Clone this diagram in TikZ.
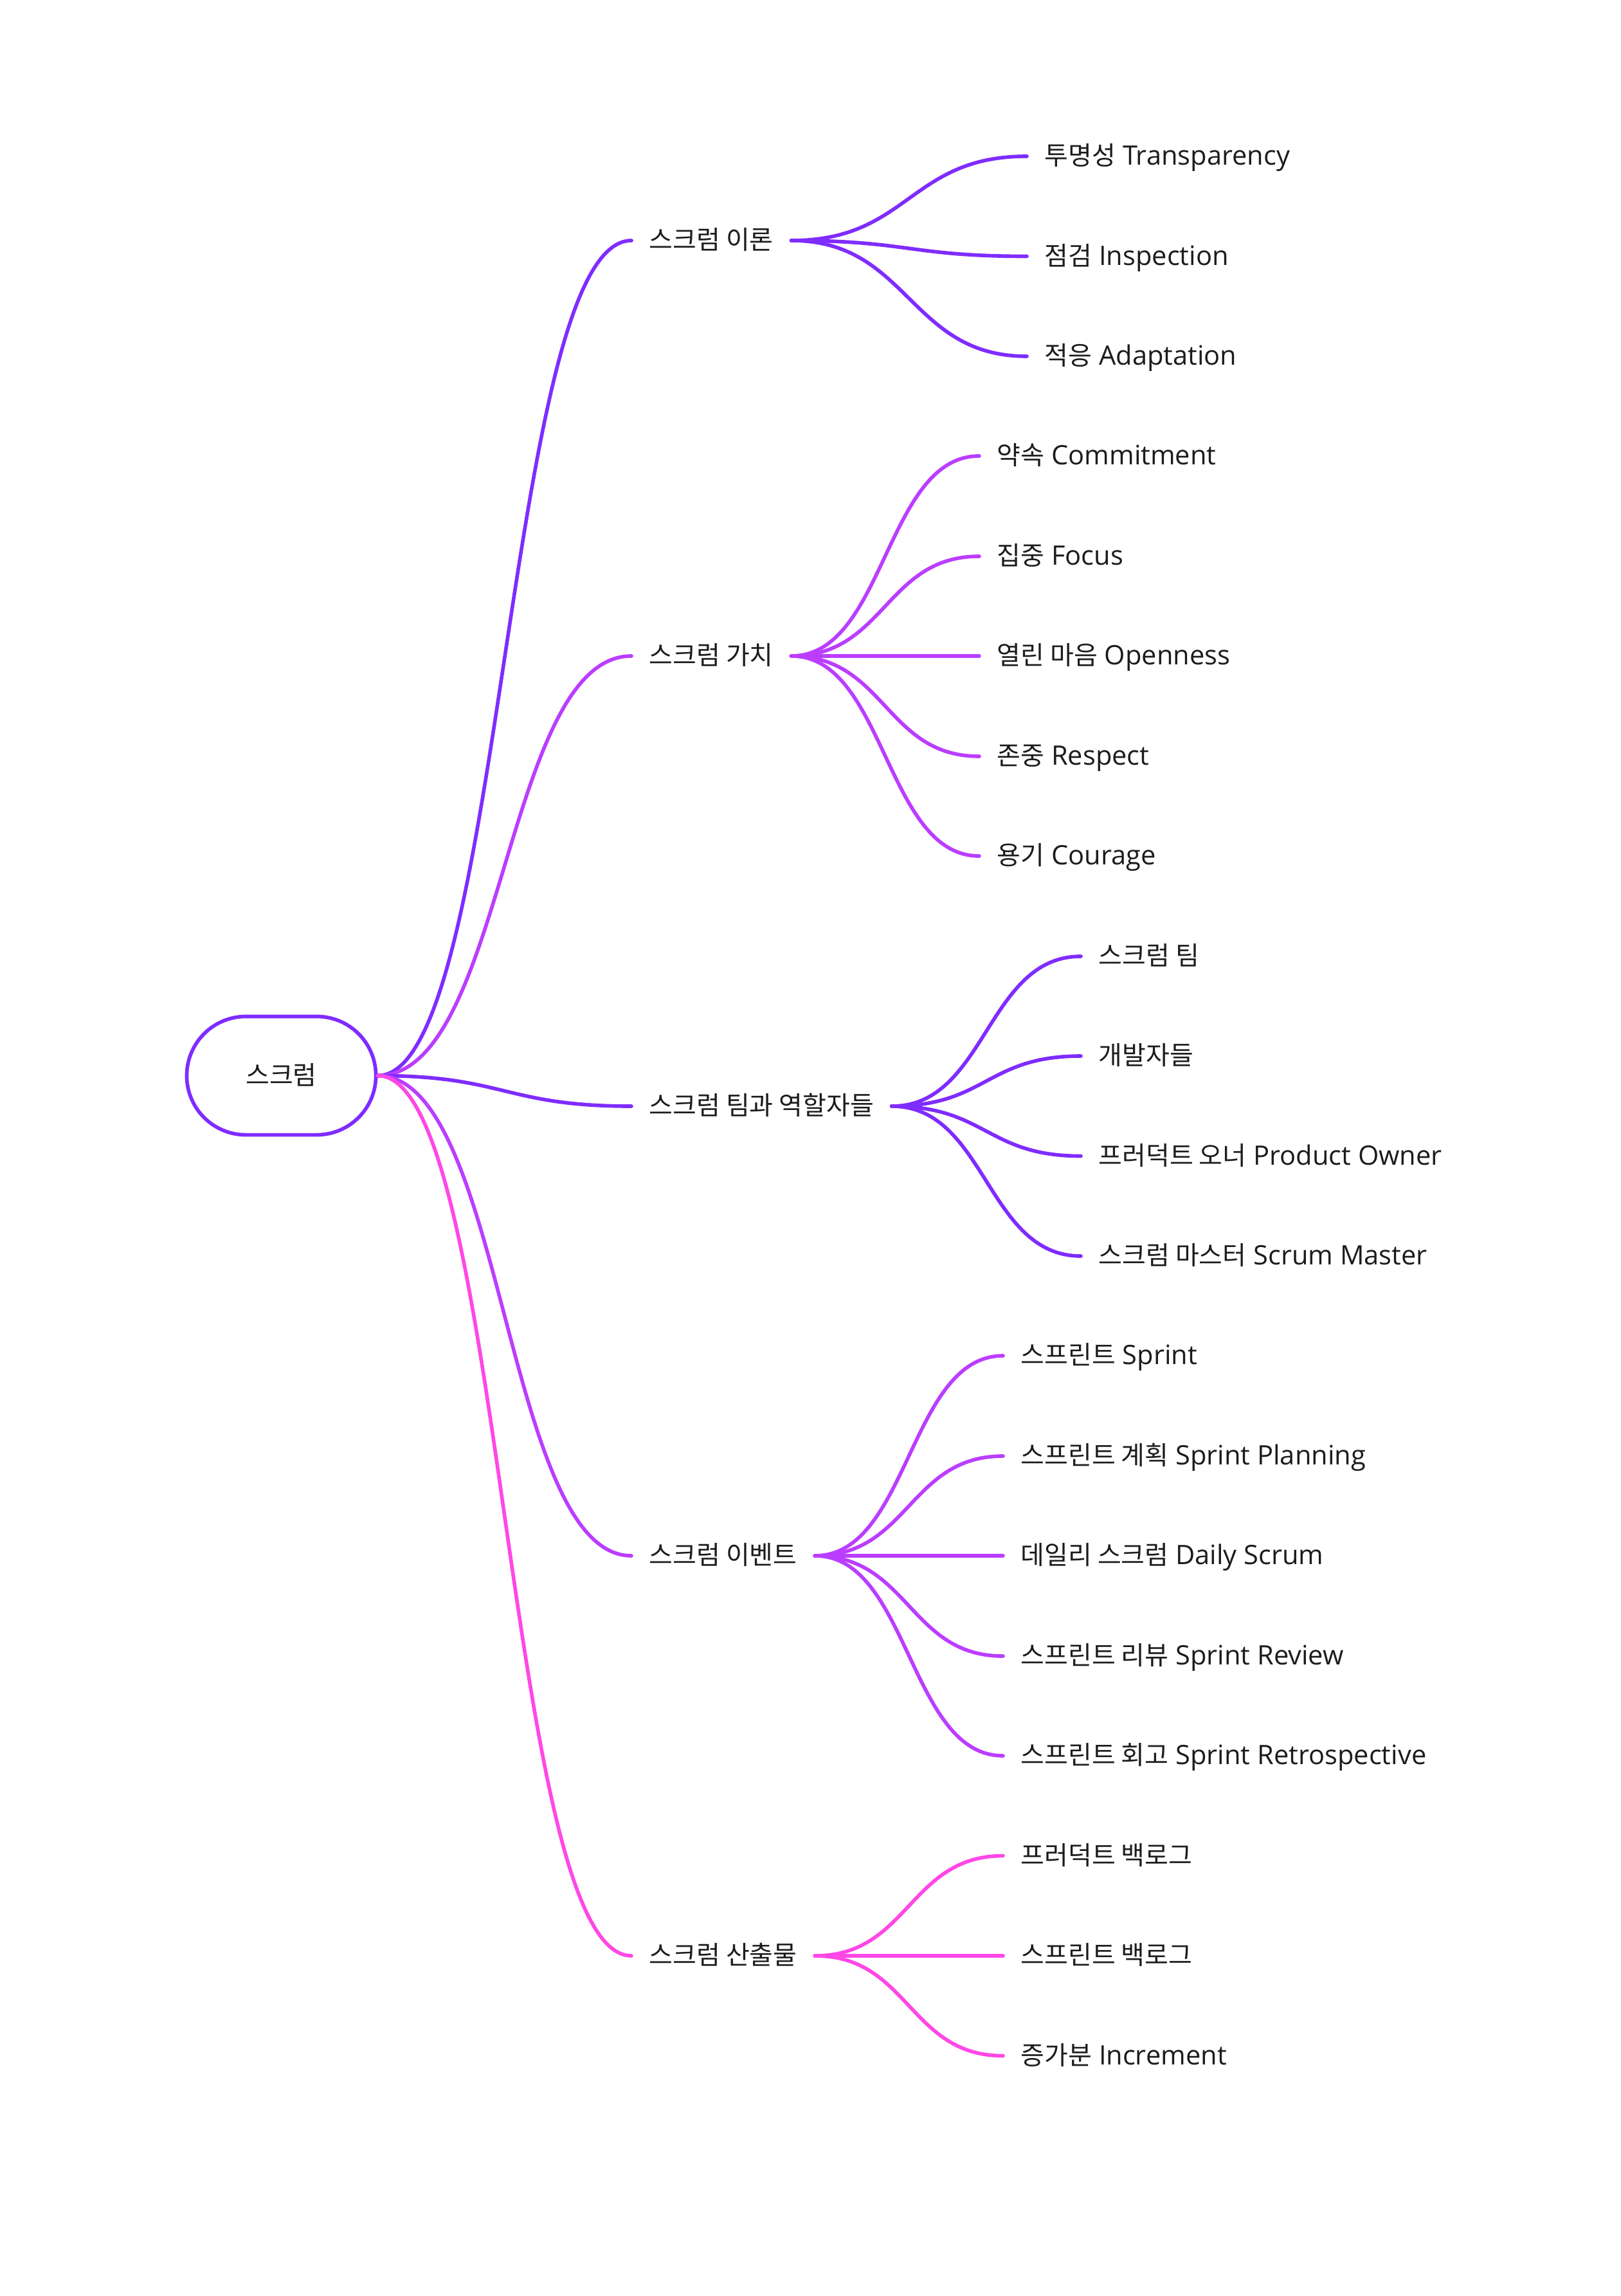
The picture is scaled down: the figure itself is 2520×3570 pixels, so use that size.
\documentclass[tikz,border=0pt]{standalone}
\usepackage{fontspec}
\setmainfont{Open Sans}[Scale=1.04]
\newfontfamily\kr{Noto Sans CJK KR}[RawFeature=+palt]
\usetikzlibrary{calc}
\definecolor{cA}{HTML}{7F2CFF}
\definecolor{cB}{HTML}{BB3DFF}
\definecolor{cC}{HTML}{FF47E6}
\definecolor{txt}{HTML}{1C1C1C}
\newcommand\mmconn[3]{\draw[conn,#1] let \p1=(#2),\p2=(#3) in (\p1) .. controls ({0.5*\x1+0.5*\x2},\y1) and ({0.5*\x1+0.5*\x2},\y2) .. (\p2);}
\begin{document}
\begin{tikzpicture}[x=0.01cm,y=-0.01cm,
  lbl/.style={anchor=west, inner xsep=0.27cm, inner ysep=0pt, text height=0.8em, text depth=0.04em, text=txt, font=\fontsize{11.38pt}{13pt}\selectfont},
  conn/.style={line width=1.6pt, line cap=round}]
\useasboundingbox (0,0) rectangle (2520,3570);
% root
\node[draw=cA, line width=1.6pt, rounded corners=0.92cm, minimum width=2.94cm, minimum height=1.84cm, inner sep=0pt, text=txt, font=\fontsize{11.38pt}{13pt}\selectfont, text height=0.8em, text depth=0.04em] (root) at (437.5,1672.5) {{\kr 스크럼}};
% level 1
\node[lbl] (t1) at (982,374) {{\kr 스크럼 이론}};
\node[lbl] (t2) at (982,1020) {{\kr 스크럼 가치}};
\node[lbl] (t3) at (982,1720) {{\kr 스크럼 팀과 역할자들}};
\node[lbl] (t4) at (982,2419) {{\kr 스크럼 이벤트}};
\node[lbl] (t5) at (982,3041) {{\kr 스크럼 산출물}};
% leaves
\node[lbl] (l0) at (1597,243) {{\kr 투명성} Transparency};
\node[lbl] (l1) at (1597,398.5) {{\kr 점검} Inspection};
\node[lbl] (l2) at (1597,554) {{\kr 적응} Adaptation};
\node[lbl] (l3) at (1523,709) {{\kr 약속} Commitment};
\node[lbl] (l4) at (1523,865) {{\kr 집중} Focus};
\node[lbl] (l5) at (1523,1020) {{\kr 열린 마음} Openness};
\node[lbl] (l6) at (1523,1176) {{\kr 존중} Respect};
\node[lbl] (l7) at (1523,1331) {{\kr 용기} Courage};
\node[lbl] (l8) at (1681,1487) {{\kr 스크럼 팀}};
\node[lbl] (l9) at (1681,1642) {{\kr 개발자들}};
\node[lbl] (l10) at (1681,1797.5) {{\kr 프러덕트 오너} Product Owner};
\node[lbl] (l11) at (1681,1953) {{\kr 스크럼 마스터} Scrum Master};
\node[lbl] (l12) at (1560,2108) {{\kr 스프린트} Sprint};
\node[lbl] (l13) at (1560,2264) {{\kr 스프린트 계획} Sprint Planning};
\node[lbl] (l14) at (1560,2419) {{\kr 데일리 스크럼} Daily Scrum};
\node[lbl] (l15) at (1560,2575) {{\kr 스프린트 리뷰} Sprint Review};
\node[lbl] (l16) at (1560,2730) {{\kr 스프린트 회고} Sprint Retrospective};
\node[lbl] (l17) at (1560,2885.5) {{\kr 프러덕트 백로그}};
\node[lbl] (l18) at (1560,3041) {{\kr 스프린트 백로그}};
\node[lbl] (l19) at (1560,3196.5) {{\kr 증가분} Increment};
% connectors
\mmconn{cA}{root.east}{t1.west}
\mmconn{cB}{root.east}{t2.west}
\mmconn{cA}{root.east}{t3.west}
\mmconn{cB}{root.east}{t4.west}
\mmconn{cC}{root.east}{t5.west}
\foreach \i in {0,1,2}{\mmconn{cA}{t1.east}{l\i.west}}
\foreach \i in {3,...,7}{\mmconn{cB}{t2.east}{l\i.west}}
\foreach \i in {8,...,11}{\mmconn{cA}{t3.east}{l\i.west}}
\foreach \i in {12,...,16}{\mmconn{cB}{t4.east}{l\i.west}}
\foreach \i in {17,18,19}{\mmconn{cC}{t5.east}{l\i.west}}
\end{tikzpicture}
\end{document}
